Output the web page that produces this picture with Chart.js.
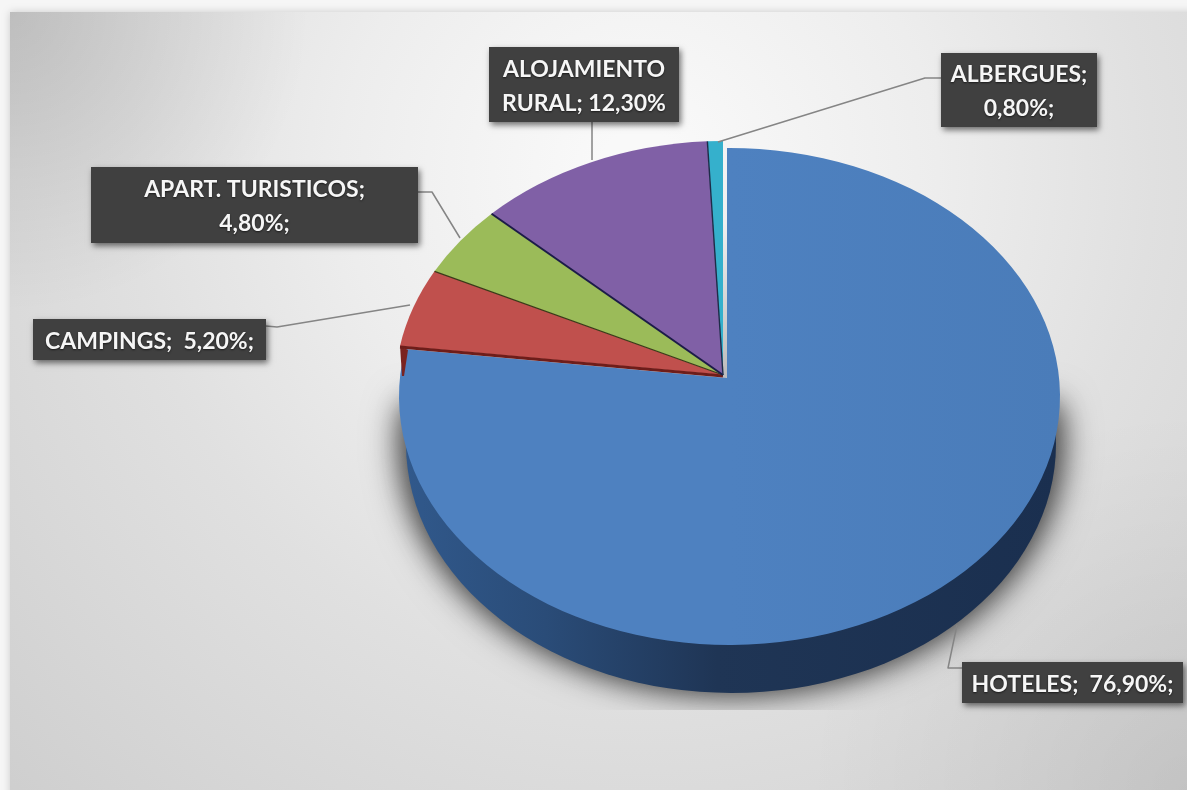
<!DOCTYPE html>
<html>
<head>
<meta charset="utf-8">
<style>html,body{margin:0;padding:0;background:#f6f6f6;overflow:hidden}canvas{display:block}</style>
<script src="https://cdn.jsdelivr.net/npm/chart.js@4"></script>
</head>
<body>
<canvas id="c" width="1187" height="790"></canvas>
<script>
const categories = ['HOTELES','CAMPINGS','APART. TURISTICOS','ALOJAMIENTO RURAL','ALBERGUES'];
const values = [76.9,5.2,4.8,12.3,0.8];
const valueLabels = ['76,90%','5,20%','4,80%','12,30%','0,80%'];
const colors = ['#4e81c0','#c0504d','#9bbb59','#8060a6','#35b0cc'];
const edgeColors = ['#6e1d1a','#3a3a18','#1c1c48','#1d2c48'];

// label text lines, one list per category
const labelLines = [
  ['HOTELES;  76,90%;'],
  ['CAMPINGS;  5,20%;'],
  ['APART. TURISTICOS;','4,80%;'],
  ['ALOJAMIENTO','RURAL; 12,30%'],
  ['ALBERGUES;','0,80%;']
];
const labelBoxes = [[962,662,221,41],[33,319,233,41],[91,167,327,76],[489,47,190,75],[941,53,156,74]];
const leaders = [
  [[962,668],[948,668],[957,625]],
  [[266,326],[277,327],[410,305]],
  [[418,192],[432,192],[460,238]],
  [[592,122],[592,160]],
  [[941,78],[925,78],[718,142]]
];

// geometry of the tilted pie: apex sits off the ellipse centre (perspective)
const mainDisc = {cx:725,cy:389,rx:330,ry:248,ax:723,ay:375};
const hotelDisc = {cx:729.5,cy:396.5,rx:330.5,ry:248.5,ax:727,ay:378};
const wall = {cx:731,cy:444,rx:323,ry:249};

function rim(d,phi){
  const ux=(d.ax-d.cx)/d.rx, uy=(d.ay-d.cy)/d.ry;
  const vx=Math.cos(phi), vy=Math.sin(phi);
  const b=ux*vx+uy*vy, c=ux*ux+uy*uy-1;
  const t=-b+Math.sqrt(b*b-c);
  const px=ux+t*vx, py=uy+t*vy;
  return {x:d.cx+px*d.rx, y:d.cy+py*d.ry, p:Math.atan2(py,px)};
}
function slicePath(ctx,d,a0,a1){
  const s=rim(d,a0), e=rim(d,a1);
  let p1=e.p; while(p1<s.p) p1+=Math.PI*2;
  ctx.beginPath();
  ctx.moveTo(d.ax,d.ay);
  ctx.lineTo(s.x,s.y);
  ctx.ellipse(d.cx,d.cy,d.rx,d.ry,0,s.p,p1,false);
  ctx.closePath();
  return {s,e};
}

const backdrop = {
  id:'backdrop',
  beforeDraw(chart){
    const ctx=chart.ctx;
    ctx.save();
    ctx.fillStyle='#f6f6f6';
    ctx.fillRect(0,0,1187,790);
    ctx.save();
    ctx.shadowColor='rgba(0,0,0,0.18)';
    ctx.shadowBlur=8;
    const g=ctx.createRadialGradient(640,170,40,640,170,900);
    g.addColorStop(0,'#f9f9f9');
    g.addColorStop(0.3,'#ededed');
    g.addColorStop(0.55,'#e0e0e0');
    g.addColorStop(0.8,'#d6d6d6');
    g.addColorStop(1,'#cecece');
    ctx.fillStyle=g;
    ctx.fillRect(10,12,1200,800);
    ctx.restore();
    // darker corners of the panel
    ctx.beginPath(); ctx.rect(10,12,1200,800); ctx.clip();
    [[10,12,300,0.13],[1187,790,380,0.07]].forEach(c=>{
      const k=ctx.createRadialGradient(c[0],c[1],0,c[0],c[1],c[2]);
      k.addColorStop(0,'rgba(0,0,0,'+c[3]+')');
      k.addColorStop(1,'rgba(0,0,0,0)');
      ctx.fillStyle=k;
      ctx.fillRect(0,0,1187,790);
    });
    ctx.restore();
  }
};

const tiltedPie = {
  id:'tiltedPie',
  beforeDatasetDraw(chart,args){
    const ctx=chart.ctx, arcs=args.meta.data, bg=chart.data.datasets[0].backgroundColor;
    ctx.save();
    // soft shadow only (caster is off-canvas), cut flat at the bottom
    ctx.save();
    ctx.beginPath(); ctx.rect(0,0,1187,710); ctx.clip();
    ctx.fillStyle='#000';
    const away=3000;
    [[36,0.55],[24,0.4]].forEach(s=>{
      ctx.shadowColor='rgba(0,0,0,'+s[1]+')'; ctx.shadowBlur=s[0]; ctx.shadowOffsetX=away; ctx.shadowOffsetY=3;
      ctx.beginPath(); ctx.ellipse(wall.cx-away,wall.cy-6,wall.rx+8,wall.ry+4,0,-0.15,Math.PI+0.15); ctx.closePath(); ctx.fill();
    });
    ctx.restore();
    // side wall
    ctx.save();
    const wg=ctx.createLinearGradient(400,0,1060,0);
    wg.addColorStop(0,'#31598c'); wg.addColorStop(0.22,'#2a4c78');
    wg.addColorStop(0.48,'#1f3555'); wg.addColorStop(1,'#1a2f4f');
    ctx.fillStyle=wg;
    ctx.beginPath(); ctx.ellipse(wall.cx,wall.cy,wall.rx+2,wall.ry,0,-0.1,Math.PI+0.1); ctx.closePath(); ctx.fill();
    ctx.restore();

    // gap between the pulled-out slice and the rest
    const gapTop=rim(mainDisc,arcs[0].startAngle);
    const gg=ctx.createLinearGradient(0,gapTop.y,0,mainDisc.ay);
    gg.addColorStop(0,'#f4f4f4'); gg.addColorStop(0.35,'#f0f0f0'); gg.addColorStop(1,'#bdbdbd');
    ctx.fillStyle=gg;
    ctx.fillRect(mainDisc.ax,gapTop.y,hotelDisc.ax-mainDisc.ax+3,hotelDisc.ay-gapTop.y);

    // large slice first
    const big=arcs[0];
    const bg0=ctx.createLinearGradient(400,0,1060,0);
    bg0.addColorStop(0,bg[0]); bg0.addColorStop(0.5,bg[0]); bg0.addColorStop(1,'#4a7cb9');
    slicePath(ctx,hotelDisc,big.startAngle,big.endAngle);
    ctx.fillStyle=bg0; ctx.fill();

    // the other slices
    for(let i=1;i<arcs.length;i++){
      const a=arcs[i];
      const r=slicePath(ctx,mainDisc,a.startAngle,a.endAngle);
      ctx.fillStyle=bg[i]; ctx.fill();
      if(i===1){ // cut face of the red slice
        ctx.beginPath();
        ctx.moveTo(r.s.x,r.s.y); ctx.lineTo(r.s.x+8,r.s.y+4);
        ctx.lineTo(r.s.x+4,r.s.y+30); ctx.lineTo(r.s.x+2,r.s.y+30);
        ctx.closePath(); ctx.fillStyle='#7a2320'; ctx.fill();
      }
    }
    // dark edges between slices
    const widths=[3,1.2,2,1.4];
    for(let i=1;i<arcs.length;i++){
      const s=rim(mainDisc,arcs[i].startAngle);
      const nudge = i===1 ? 1 : 0;
      ctx.beginPath(); ctx.moveTo(mainDisc.ax,mainDisc.ay+nudge); ctx.lineTo(s.x,s.y+nudge);
      ctx.strokeStyle=edgeColors[i-1]; ctx.lineWidth=widths[i-1]; ctx.stroke();
    }
    ctx.restore();
    return false;
  },
  afterDatasetsDraw(chart){
    const ctx=chart.ctx;
    ctx.save();
    // leaders
    ctx.strokeStyle='#858585'; ctx.lineWidth=1.5; ctx.lineJoin='round';
    leaders.forEach(pts=>{
      ctx.beginPath();
      pts.forEach((p,i)=> i?ctx.lineTo(p[0],p[1]):ctx.moveTo(p[0],p[1]));
      ctx.stroke();
    });
    // boxes and text
    labelBoxes.forEach((b,i)=>{
      ctx.save();
      ctx.shadowColor='rgba(0,0,0,0.55)'; ctx.shadowBlur=6; ctx.shadowOffsetX=2; ctx.shadowOffsetY=3;
      ctx.fillStyle='#404040';
      ctx.fillRect(b[0],b[1],b[2],b[3]);
      ctx.restore();
      ctx.save();
      ctx.fillStyle='#f6f6f6';
      ctx.font='bold 23px Lato';
      ctx.textAlign='center'; ctx.textBaseline='middle';
      ctx.shadowColor='rgba(0,0,0,0.6)'; ctx.shadowBlur=2; ctx.shadowOffsetY=1;
      const lines=labelLines[i], lh=34;
      const y0=b[1]+b[3]/2+2-(lines.length-1)*lh/2;
      lines.forEach((t,k)=>ctx.fillText(t,b[0]+b[2]/2,y0+k*lh));
      ctx.restore();
    });
    ctx.restore();
  }
};

new Chart(document.getElementById('c'),{
  type:'pie',
  data:{labels:categories,datasets:[{data:values,backgroundColor:colors,borderWidth:0}]},
  options:{
    responsive:false,
    animation:false,
    events:[],
    layout:{padding:0},
    plugins:{legend:{display:false},tooltip:{enabled:false},title:{display:false}}
  },
  plugins:[backdrop,tiltedPie]
});
</script>
</body>
</html>
